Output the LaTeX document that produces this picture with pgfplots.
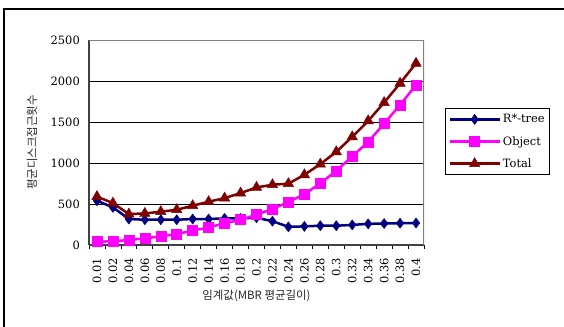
\documentclass[border=0pt]{standalone}
\usepackage{pgfplots}
\pgfplotsset{compat=1.18}
\usepackage{fontspec}
\setmainfont{DejaVu Serif}
\newfontfamily\kr{Noto Sans CJK KR}
\definecolor{navyc}{RGB}{0,0,128}
\definecolor{magc}{RGB}{255,0,255}
\definecolor{maroonc}{RGB}{128,0,0}
\begin{document}
\begin{tikzpicture}
\useasboundingbox (0,0) rectangle (564bp,-327bp);
\draw[line width=1.2bp] (4bp,-335bp) -- (4bp,-9bp) -- (570bp,-9bp);
\begin{axis}[
  at={(89bp,-245bp)}, anchor=south west,
  scale only axis, width=335bp, height=205bp,
  xmin=-0.5, xmax=20.5, ymin=0, ymax=2500,
  axis x line*=bottom, axis y line*=left,
  axis line style={-, line width=1.8bp, color=black!75},
  xtick={0,...,20},
  xticklabels={0.01,0.02,0.04,0.06,0.08,0.1,0.12,0.14,0.16,0.18,0.2,0.22,0.24,0.26,0.28,0.3,0.32,0.34,0.36,0.38,0.4},
  minor xtick={-0.5,0.5,...,20.5},
  major tick length=0pt, minor tick length=4bp,
  minor tick style={black, line width=0.8bp},
  tick align=outside,
  ytick={0,500,...,2500},
  ymajorgrids, major grid style={black, line width=0.8bp},
  scaled y ticks=false,
  /pgf/number format/assume math mode=true,
  /pgf/number format/1000 sep={},
  every tick label/.append style={font=\fontsize{11.5}{13}\selectfont},
  xticklabel style={rotate=90, anchor=east, inner sep=0pt},
  xticklabel shift=13bp,
  yticklabel style={anchor=east, inner sep=0pt},
  yticklabel shift=9bp,
  xlabel={\kr 임계값(MBR 평균길이)},
  xlabel style={at={(axis description cs:0.5,-0.249)}, anchor=center, font=\fontsize{11.5}{13}\selectfont, text=black!85},
  ylabel={\kr 평균디스크접근횟수},
  ylabel style={at={(axis description cs:-0.170,0.5)}, anchor=center, font=\fontsize{11.5}{13}\selectfont, text=black!85},
  legend style={at={(axis description cs:1.0627,0.668)}, anchor=north west, draw=black, line width=0.8bp,
    font=\fontsize{11.5}{13}\selectfont, inner xsep=3bp, inner ysep=4bp, row sep=8bp, cells={anchor=west}},
  legend image code/.code={\draw[mark repeat=2,mark phase=2,#1] plot coordinates {(0bp,0bp) (25bp,0bp) (50bp,0bp)};},
]
\draw[line width=1.8bp, black!50] (rel axis cs:0,1) -- (rel axis cs:1,1) -- (rel axis cs:1,0);
\addplot[color=navyc, line width=2.5bp, mark=diamond*, mark size=5bp, mark options={solid, line width=0.5bp}]
 coordinates {(0,540) (1,459) (2,317) (3,308) (4,308) (5,308) (6,317) (7,317) (8,325) (9,325) (10,333) (11,290) (12,222) (13,227) (14,235) (15,235) (16,245) (17,258) (18,262) (19,266) (20,268)};
\addlegendentry{R*-tree}
\addplot[color=magc, line width=2.5bp, mark=square*, mark size=5bp, mark options={solid, line width=0.5bp}]
 coordinates {(0,40) (1,45) (2,61) (3,81) (4,105) (5,134) (6,175) (7,215) (8,264) (9,308) (10,369) (11,440) (12,522) (13,621) (14,751) (15,905) (16,1080) (17,1258) (18,1481) (19,1709) (20,1952)};
\addlegendentry{Object}
\addplot[color=maroonc, line width=2.5bp, mark=triangle*, mark size=6bp, mark options={solid, line width=0.5bp}]
 coordinates {(0,590) (1,511) (2,377) (3,385) (4,406) (5,430) (6,479) (7,528) (8,572) (9,633) (10,702) (11,735) (12,748) (13,856) (14,986) (15,1136) (16,1319) (17,1514) (18,1737) (19,1972) (20,2216)};
\addlegendentry{Total}
\end{axis}
\end{tikzpicture}
\end{document}
